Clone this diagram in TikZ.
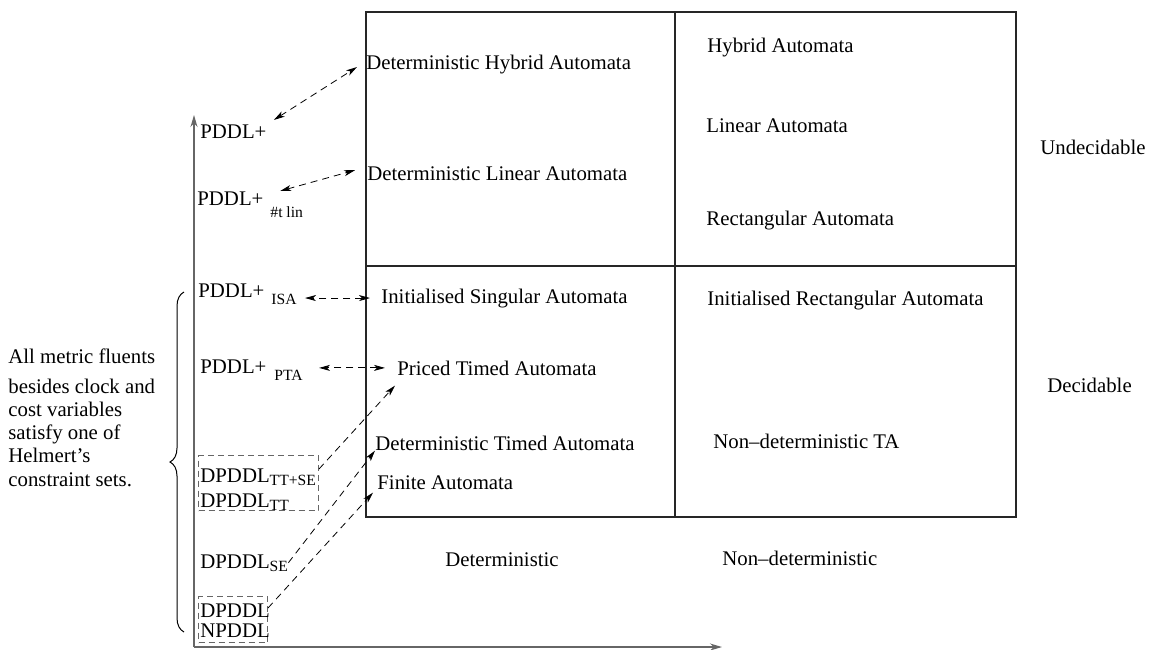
\documentclass[tikz,border=0pt]{standalone}
\usepackage{fontspec}
\setmainfont{Liberation Serif}
\usetikzlibrary{arrows.meta,decorations.pathreplacing}
\newcommand{\lowtext}[2]{\raisebox{-#1}{\fontsize{7.8}{9}\selectfont #2}}

\begin{document}
\begin{tikzpicture}[x=0.5pt,y=-0.5pt,
	font=\fontsize{10.4}{12.5}\selectfont,
	dtip/.tip={Stealth[length=5.5pt,width=3pt,inset=1.5pt]},
	lbl/.style={anchor=base west,inner sep=0pt},
	frame/.style={draw=black!85,line width=0.6pt},
	axis/.style={draw=black!60,line width=0.7pt,-{Stealth[length=6pt,width=3.5pt]}},
	dbox/.style={draw=black!60,dash pattern=on 3pt off 2pt,line width=0.5pt,inner sep=0pt,anchor=north west},
	link/.style={draw,line width=0.4pt,dash pattern=on 3.5pt off 2.5pt,-dtip},
	both/.style={link,dtip-dtip}]
	\useasboundingbox (0,0) rectangle (1149,649);
	%% Frame and axes ------
	\coordinate (f0) at (366,12);
	\coordinate (f1) at (1016,517);
	\coordinate (m0) at (675,12);
	\coordinate (m1) at (675,517);
	\coordinate (h0) at (366,266);
	\coordinate (h1) at (1016,266);
	\draw[frame] (f0) rectangle (f1);
	\draw[frame] (m0) -- (m1);
	\draw[frame] (h0) -- (h1);
	\coordinate (o) at (194,647);
	\coordinate (ytop) at (194,115);
	\coordinate (xend) at (722,647);
	\draw[axis] (o) -- (ytop);
	\draw[axis] (o) -- (xend);
	%% Languages ------
	\node[lbl] (p0) at (200,138) {PDDL+};
	\node[lbl] (p1) at (197,205) {PDDL+\hspace{3.5pt}\lowtext{6pt}{\#t lin}};
	\node[lbl] (p2) at (198,297) {PDDL+\hspace{3.5pt}\lowtext{3.5pt}{ISA}};
	\node[lbl] (p3) at (200,373) {PDDL+\hspace{4pt}\lowtext{3.5pt}{PTA}};
	\node[dbox,minimum width=60pt,minimum height=27.5pt] (b1) at (198,455) {};
	\node[lbl] (d0) at (200,482) {DPDDL\lowtext{1.5pt}{TT+SE}};
	\node[lbl] (d1) at (200,507) {DPDDL\lowtext{1.5pt}{TT}};
	\node[lbl] (d2) at (200,568) {DPDDL\lowtext{1.5pt}{SE}};
	\node[dbox,minimum width=34.5pt,minimum height=23pt] (b2) at (198,596) {};
	\node[lbl] (d3) at (200,617) {DPDDL};
	\node[lbl] (d4) at (200,637) {NPDDL};
	%% Automata ------
	\node[lbl] (a0) at (366,69) {Deterministic Hybrid Automata};
	\node[lbl] (a1) at (367,180) {Deterministic Linear Automata};
	\node[lbl] (a2) at (381,303) {Initialised Singular Automata};
	\node[lbl] (a3) at (397,375) {Priced Timed Automata};
	\node[lbl] (a4) at (375,450) {Deterministic Timed Automata};
	\node[lbl] (a5) at (377,489) {Finite Automata};
	\node[lbl] (n0) at (707,52) {Hybrid Automata};
	\node[lbl] (n1) at (706,132) {Linear Automata};
	\node[lbl] (n2) at (706,225) {Rectangular Automata};
	\node[lbl] (n3) at (707,305) {Initialised Rectangular Automata};
	\node[lbl] (n4) at (713,448) {Non--deterministic TA};
	%% Axis labels ------
	\node[lbl] (c0) at (445,566) {Deterministic};
	\node[lbl] (c1) at (722,565) {Non--deterministic};
	\node[lbl] (r0) at (1040,154) {Undecidable};
	\node[lbl] (r1) at (1047,392) {Decidable};
	\node[anchor=north west,inner sep=0pt,align=left,font=\fontsize{10.4}{11.65}\selectfont] (note) at (8,348)
		{All metric fluents\\[3.35pt] besides clock and\\ cost variables\\ satisfy one of\\ Helmert's\\ constraint sets.};
	\coordinate (br0) at (184,632);
	\coordinate (br1) at (184,292);
	\draw[decorate,decoration={brace,amplitude=7pt},line width=0.5pt] (br0) -- (br1);
	%% Links ---------
	\draw[both] ([xshift=3.5pt,yshift=2pt]p0.north east) -- ([xshift=-4.5pt,yshift=-1.5pt]a0.west);
	\draw[both] ([xshift=15pt]p1.north) -- ([xshift=-6pt,yshift=1.5pt]a1.west);
	\draw[both,shorten <=5.5pt,shorten >=4pt] (a2.west) -- (a2.west -| p2.east);
	\draw[both,shorten <=6pt,shorten >=8pt] (a3.west) -- (a3.west -| p3.east);
	\draw[link] ([yshift=-7pt]b1.north east) -- ([xshift=-1pt,yshift=-5pt]a3.south west);
	\draw[link] (d2.east) -- (a4.south west);
	\draw[link] ([yshift=-6pt]b2.north east) -- ([xshift=-2pt,yshift=-1.5pt]a5.south west);
\end{tikzpicture}
\end{document}
